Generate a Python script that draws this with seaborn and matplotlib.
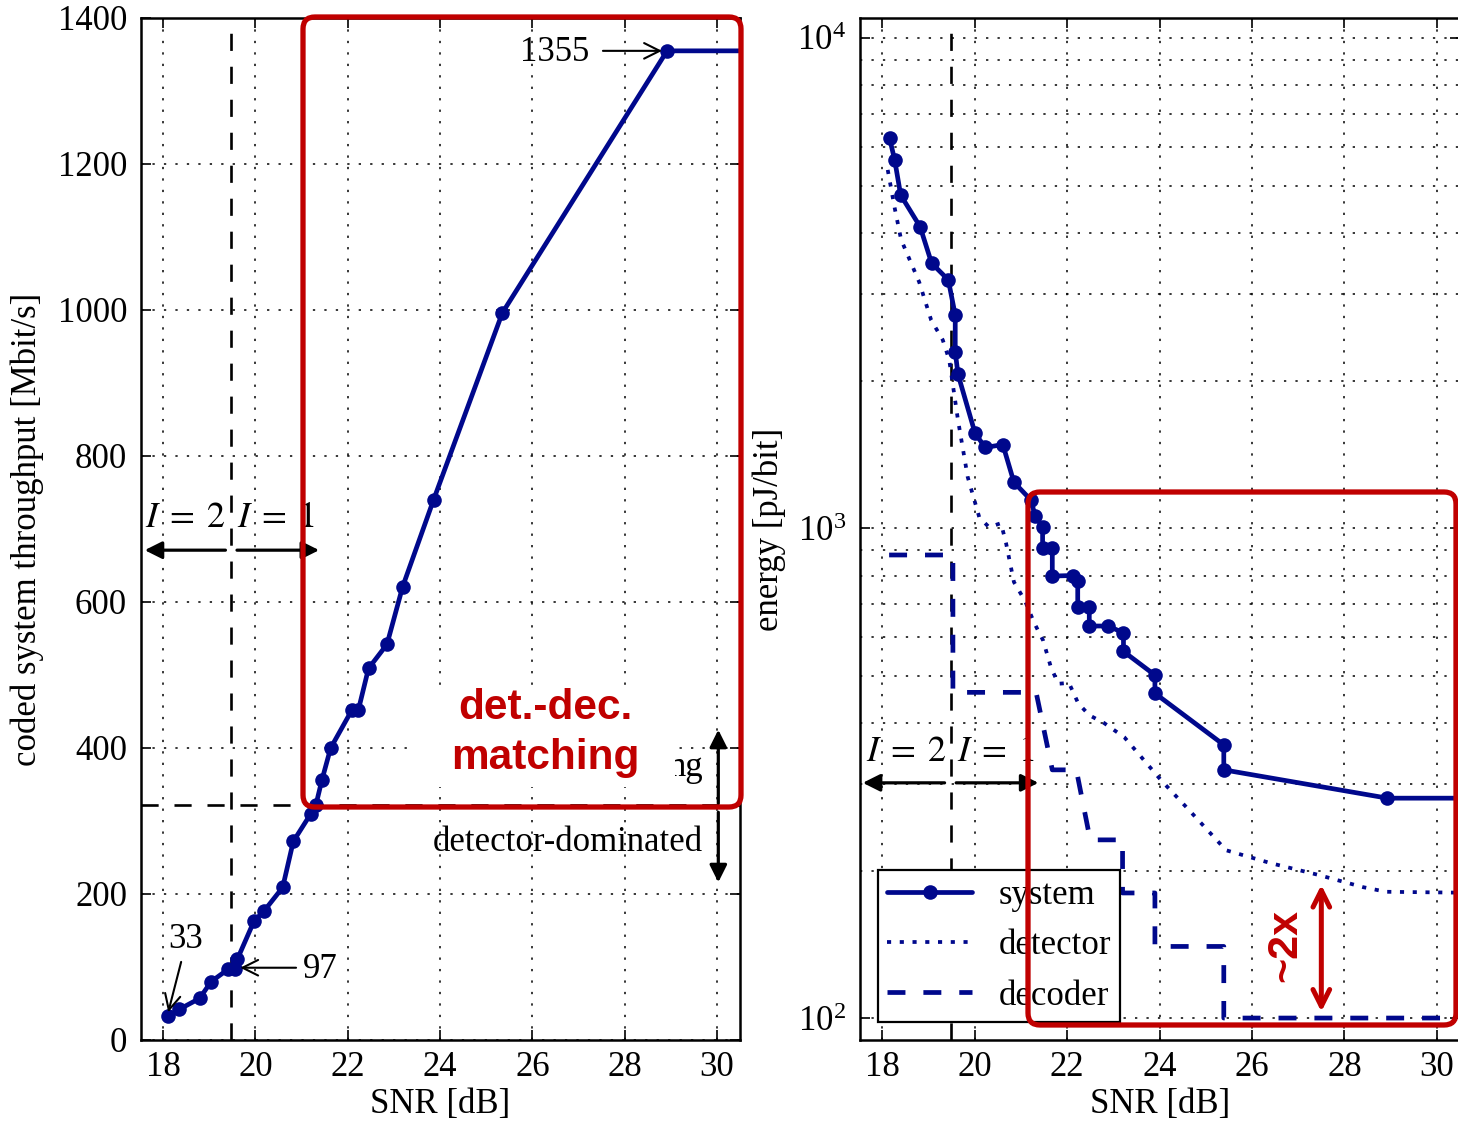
import matplotlib
matplotlib.use("Agg")
import matplotlib.pyplot as plt
import seaborn as sns
import pandas as pd
from matplotlib.patches import FancyBboxPatch, Rectangle
from matplotlib.ticker import LogLocator, NullFormatter

# ---------------- data ----------------
# left panel: coded system throughput vs SNR
tp_snr = [18.11, 18.35, 18.79, 19.04, 19.41, 19.56, 19.61, 19.97, 20.19, 20.59, 20.82,
          21.20, 21.31, 21.44, 21.63, 22.09, 22.23, 22.45, 22.85, 23.19, 23.86, 25.35,
          28.92, 31.0]
tp_mbps = [33, 42, 57, 80, 97, 97, 111, 163, 177, 209, 272,
           310, 322, 356, 400, 452, 452, 509, 542, 621, 740, 996,
           1355, 1355]

# right panel: energy per bit vs SNR
sys_snr = [18.16, 18.27, 18.40, 18.82, 19.07, 19.43, 19.58, 19.58, 19.64, 20.01, 20.23,
           20.61, 20.85, 21.22, 21.31, 21.47, 21.47, 21.68, 21.68, 22.12, 22.23, 22.23,
           22.48, 22.48, 22.89, 23.22, 23.22, 23.90, 23.90, 25.39, 25.39, 28.93, 31.0]
sys_energy = [6240, 5640, 4780, 4120, 3470, 3210, 2720, 2290, 2060, 1560, 1460,
              1480, 1240, 1140, 1057, 1006, 910, 910, 798, 800, 780, 690,
              690, 631, 631, 611, 560, 501, 460, 361, 321, 281, 281]

det_snr = [18.12, 18.27, 18.41, 18.80, 19.06, 19.31, 19.45, 19.64, 19.85, 20.10, 20.31,
           20.57, 20.68, 20.85, 21.09, 21.29, 21.48, 21.65, 21.81, 22.04, 22.24, 22.48,
           22.80, 23.24, 24.03, 24.57, 25.44, 26.41, 27.43, 28.40, 28.90, 31.0]
det_energy = [5380, 4500, 3875, 3177, 2656, 2420, 2204, 1660, 1271, 1052, 1004,
              1023, 931, 776, 710, 640, 590, 520, 481, 483, 439, 415,
              400, 374, 306, 270, 220, 207, 196, 185, 181, 180]

dec_snr = [18.15, 19.53, 19.53, 21.33, 21.68, 22.20, 22.50, 23.20, 23.20, 23.90, 23.90,
           25.39, 25.39, 31.0]
dec_energy = [881, 881, 462, 462, 321, 321, 231, 231, 180, 180, 140,
              140, 100, 100]

series_labels = ["system", "detector", "decoder"]
x_ticks = [18, 20, 22, 24, 26, 28, 30]
tp_ticks = [0, 200, 400, 600, 800, 1000, 1200, 1400]

# reference marks
I_SWITCH_SNR = 19.48        # I=2 / I=1 boundary
DET_DOMINATED_TP = 322      # horizontal dashed line in left panel
PEAK_TP = 1355
LOW_TP = 33
SWITCH_TP = 97

# ---------------- style ----------------
sns.set_theme(style="ticks")
plt.rcParams.update({
    "font.family": ["Liberation Serif", "DejaVu Serif"],
    "mathtext.fontset": "stix",
    "font.size": 25,
    "axes.linewidth": 1.8,
    "axes.edgecolor": "black",
    "xtick.direction": "in",
    "ytick.direction": "in",
    "xtick.color": "black",
    "ytick.color": "black",
    "text.color": "black",
    "axes.labelcolor": "black",
})

BLUE = "#00088C"
RED = "#C00000"
FS = 25
grid_ls = (0, (1.5, 6))
guide_ls = (0, (6.5, 6))

W, H = 1458, 1123
fig = plt.figure(figsize=(W / 100, H / 100), dpi=100)
fig.patch.set_facecolor("white")
ax1 = fig.add_axes([141 / W, 1 - 1040 / H, 599 / W, 1022 / H])
ax2 = fig.add_axes([860 / W, 1 - 1040 / H, 600 / W, 1022 / H])

for ax in (ax1, ax2):
    ax.set_facecolor("white")
    ax.set_axisbelow(True)
    ax.tick_params(which="major", direction="in", top=True, right=True,
                   length=7, width=1.2, labelsize=FS)
    ax.tick_params(axis="x", pad=8)
    ax.tick_params(axis="y", pad=10)
    ax.set_xlim(17.52, 30.5)
    ax.set_xticks(x_ticks)
    ax.grid(True, which="major", linestyle=grid_ls, color="black", linewidth=1.1)
    for sp in ax.spines.values():
        sp.set_visible(True)
        sp.set_linewidth(1.8)

# ---------------- left panel ----------------
df_tp = pd.DataFrame({"snr": tp_snr, "tp": tp_mbps})
sns.lineplot(data=df_tp, x="snr", y="tp", ax=ax1, color=BLUE, linewidth=3.4,
             marker="o", markersize=10.5, markeredgecolor=BLUE, markeredgewidth=0,
             estimator=None, sort=False)
ax1.set_ylim(0, 1400)
ax1.set_yticks(tp_ticks)
ax1.set_xlabel("SNR [dB]", fontsize=FS, labelpad=3)
ax1.set_ylabel("coded system throughput [Mbit/s]", fontsize=FS, labelpad=10)

ax1.axvline(I_SWITCH_SNR, color="black", linestyle=guide_ls, linewidth=1.9, zorder=1.5)
ax1.axhline(DET_DOMINATED_TP, color="black", linestyle=guide_ls, linewidth=1.9, zorder=1.5)

# I = 2 / I = 1 region arrows
fat = dict(arrowstyle="-|>", color="black", lw=2.3, mutation_scale=26, shrinkA=0, shrinkB=0)
thin = dict(arrowstyle="->", color="black", lw=1.5, mutation_scale=28, shrinkA=0, shrinkB=0)
ax1.annotate("", xy=(17.60, 671), xytext=(19.35, 671), arrowprops=fat)
ax1.annotate("", xy=(21.38, 671), xytext=(19.60, 671), arrowprops=fat)
ax1.text(18.48, 715, r"$I\;=\;2$", ha="center", va="center", fontsize=26)
ax1.text(20.44, 715, r"$I\;=\;1$", ha="center", va="center", fontsize=26)

# value call-outs
ax1.text(26.49, 1353, f"{PEAK_TP}", ha="center", va="center", fontsize=FS)
ax1.annotate("", xy=(28.81, PEAK_TP), xytext=(27.53, PEAK_TP), arrowprops=thin)
ax1.text(18.48, 137, f"{LOW_TP}", ha="center", va="center", fontsize=FS)
ax1.annotate("", xy=(18.11, 38), xytext=(18.39, 107), arrowprops=thin)
ax1.text(21.40, 96, f"{SWITCH_TP}", ha="center", va="center", fontsize=FS)
ax1.annotate("", xy=(19.67, 99), xytext=(20.88, 99), arrowprops=thin)

# regime labels (the upper one is mostly hidden by the overlay in the reference)
ax1.text(29.70, 373, "ng", ha="right", va="center", fontsize=FS)
ax1.text(29.70, 270, "detector-dominated", ha="right", va="center", fontsize=FS)
ax1.annotate("", xy=(30.03, 425), xytext=(30.03, 324), arrowprops=fat)
ax1.annotate("", xy=(30.03, 216), xytext=(30.03, 312), arrowprops=fat)

# ---------------- right panel ----------------
df_sys = pd.DataFrame({"snr": sys_snr, "e": sys_energy})
df_det = pd.DataFrame({"snr": det_snr, "e": det_energy})
df_dec = pd.DataFrame({"snr": dec_snr, "e": dec_energy})

sns.lineplot(data=df_sys, x="snr", y="e", ax=ax2, color=BLUE, linewidth=3.4,
             marker="o", markersize=10.5, markeredgecolor=BLUE, markeredgewidth=0,
             estimator=None, sort=False, label=series_labels[0])
sns.lineplot(data=df_det, x="snr", y="e", ax=ax2, color=BLUE, linewidth=2.7,
             linestyle=(0, (1.1, 2.3)), estimator=None, sort=False,
             label=series_labels[1])
sns.lineplot(data=df_dec, x="snr", y="e", ax=ax2, color=BLUE, linewidth=3.4,
             linestyle=(0, (3.8, 3.8)), estimator=None, sort=False,
             label=series_labels[2])

ax2.set_yscale("log")
ax2.set_ylim(90.2, 10985)
ax2.yaxis.set_major_locator(LogLocator(base=10, numticks=10))
ax2.yaxis.set_minor_locator(LogLocator(base=10, subs=range(2, 10), numticks=50))
ax2.yaxis.set_minor_formatter(NullFormatter())
ax2.tick_params(which="minor", length=0)
ax2.grid(True, which="minor", axis="y", linestyle=grid_ls, color="black", linewidth=1.1)
ax2.set_xlabel("SNR [dB]", fontsize=FS, labelpad=3)
ax2.set_ylabel("energy [pJ/bit]", fontsize=FS, labelpad=8)

ax2.axvline(I_SWITCH_SNR, color="black", linestyle=guide_ls, linewidth=1.9, zorder=1.5)
ax2.annotate("", xy=(17.58, 302), xytext=(19.35, 302), arrowprops=fat)
ax2.annotate("", xy=(21.38, 302), xytext=(19.60, 302), arrowprops=fat)
ax2.text(18.52, 349, r"$I\;=\;2$", ha="center", va="center", fontsize=26)
ax2.text(20.46, 349, r"$I\;=\;1$", ha="center", va="center", fontsize=26)

leg = ax2.legend(loc="lower left", bbox_to_anchor=(0.03, 0.0176), borderaxespad=0,
                 fontsize=FS, frameon=True, fancybox=False, framealpha=1,
                 edgecolor="black", handlelength=2.45, handletextpad=0.75,
                 borderpad=0.27, labelspacing=0.5)
leg.get_frame().set_linewidth(1.6)
leg.set_zorder(10)

# red "~2x" overlay arrow
ax2.annotate("", xy=(27.5, 187), xytext=(27.5, 103),
             arrowprops=dict(arrowstyle="<->", color=RED, lw=3.6, mutation_scale=30,
                             shrinkA=0, shrinkB=0), zorder=12)

# ---------------- figure overlays ----------------
def px_box(x0, y0, x1, y1):
    """pixel box (top-left origin) -> inches from bottom-left"""
    return x0 / 100, (H - y1) / 100, (x1 - x0) / 100, (y1 - y0) / 100

bx, by, bw, bh = px_box(413, 686, 675, 787)
fig.add_artist(Rectangle((bx, by), bw, bh, transform=fig.dpi_scale_trans,
                         facecolor="white", edgecolor="none", zorder=5))

fig.text(545 / W, 1 - 733 / H, "det.-dec.\nmatching", ha="center", va="center",
         fontsize=30.5, fontweight="bold", color=RED, family="Liberation Sans",
         linespacing=1.3, zorder=6)
fig.text(1285 / W, 1 - 945 / H, "~2x", ha="center", va="center", rotation=90,
         fontsize=31, fontweight="bold", color=RED, family="Liberation Sans", zorder=6)

for (x0, y0, x1, y1) in [(303, 17, 741, 807), (1028, 492, 1456, 1025)]:
    bx, by, bw, bh = px_box(x0, y0, x1, y1)
    fig.add_artist(FancyBboxPatch((bx, by), bw, bh,
                                  boxstyle="round,pad=0,rounding_size=0.12",
                                  transform=fig.dpi_scale_trans, facecolor="none",
                                  edgecolor=RED, linewidth=3.8, zorder=7))

fig.savefig("out.png", dpi=100, facecolor="white")
